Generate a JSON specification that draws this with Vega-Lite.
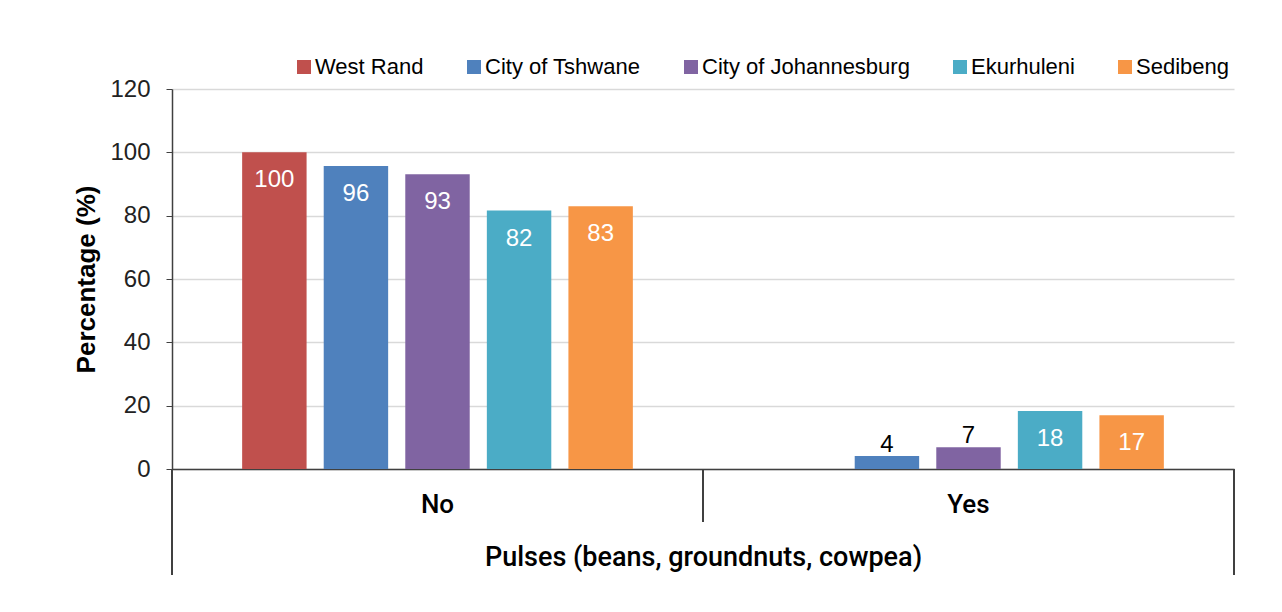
{
  "$schema": "https://vega.github.io/schema/vega-lite/v6.json",
  "width": 1062,
  "height": 380,
  "autosize": {"type": "none"},
  "padding": {"left": 172, "top": 89, "right": 48, "bottom": 143},
  "background": "white",
  "config": {"view": {"stroke": null}, "font": "Liberation Sans"},
  "data": {"values": [
    {"answer": "No", "district": "West Rand", "value": 100},
    {"answer": "No", "district": "City of Tshwane", "value": 95.7},
    {"answer": "No", "district": "City of Johannesburg", "value": 93.1},
    {"answer": "No", "district": "Ekurhuleni", "value": 81.6},
    {"answer": "No", "district": "Sedibeng", "value": 83},
    {"answer": "Yes", "district": "City of Tshwane", "value": 4.1},
    {"answer": "Yes", "district": "City of Johannesburg", "value": 6.9},
    {"answer": "Yes", "district": "Ekurhuleni", "value": 18.3},
    {"answer": "Yes", "district": "Sedibeng", "value": 17}
  ]},
  "layer": [
    {
      "mark": {"type": "bar"},
      "encoding": {
        "x": {"field": "answer", "type": "nominal", "sort": ["No", "Yes"],
          "scale": {"paddingInner": 0, "paddingOuter": 0},
          "title": "Pulses (beans, groundnuts, cowpea)",
          "axis": {"labelAngle": 0, "ticks": false, "domainColor": "#404040", "domainWidth": 1.5,
            "labelFont": "Roboto", "labelFontWeight": 500,
            "labelFontSize": 26, "labelColor": "#000000", "labelPadding": 22,
            "titleFont": "Roboto", "titleFontSize": 27, "titleFontWeight": 500, "titleColor": "#000000", "titlePadding": 27}},
        "xOffset": {"field": "district", "type": "nominal",
          "sort": ["West Rand", "City of Tshwane", "City of Johannesburg", "Ekurhuleni", "Sedibeng"],
          "scale": {"paddingInner": 0.21, "paddingOuter": 0.86}},
        "y": {"field": "value", "type": "quantitative",
          "scale": {"domain": [0, 120], "nice": false},
          "title": "Percentage (%)",
          "axis": {"values": [0, 20, 40, 60, 80, 100, 120], "domainColor": "#404040", "domainWidth": 1.5,
            "tickColor": "#404040", "tickSize": 6, "labelPadding": 16, "labelFontSize": 24, "labelColor": "#222222",
            "gridColor": "#d9d9d9", "gridWidth": 1.5,
            "titleFontSize": 26, "titleFontWeight": "bold", "titleColor": "#000000", "titlePadding": 10}},
        "color": {"field": "district", "type": "nominal",
          "sort": ["West Rand", "City of Tshwane", "City of Johannesburg", "Ekurhuleni", "Sedibeng"],
          "scale": {"domain": ["West Rand", "City of Tshwane", "City of Johannesburg", "Ekurhuleni", "Sedibeng"],
            "range": ["#c0504d", "#4f81bd", "#8064a2", "#4bacc6", "#f79646"]},
          "legend": {"title": null, "orient": "none", "legendX": 121, "legendY": -33, "direction": "horizontal",
            "columns": 5, "symbolType": "square", "symbolSize": 196, "symbolStrokeWidth": 0,
            "labelFontSize": 22, "labelColor": "#000000", "labelOffset": 0, "labelLimit": 400, "columnPadding": 39}}
      }
    },
    {
      "transform": [{"filter": "datum.value >= 10"}],
      "mark": {"type": "text", "baseline": "middle", "dy": 28, "fontSize": 24, "color": "white"},
      "encoding": {
        "x": {"field": "answer", "type": "nominal", "sort": ["No", "Yes"]},
        "xOffset": {"field": "district", "type": "nominal",
          "sort": ["West Rand", "City of Tshwane", "City of Johannesburg", "Ekurhuleni", "Sedibeng"]},
        "y": {"field": "value", "type": "quantitative"},
        "text": {"field": "value", "type": "quantitative", "format": ".0f"}
      }
    },
    {
      "transform": [{"filter": "datum.value < 10"}],
      "mark": {"type": "text", "baseline": "alphabetic", "dy": -4, "fontSize": 24, "color": "black"},
      "encoding": {
        "x": {"field": "answer", "type": "nominal", "sort": ["No", "Yes"]},
        "xOffset": {"field": "district", "type": "nominal",
          "sort": ["West Rand", "City of Tshwane", "City of Johannesburg", "Ekurhuleni", "Sedibeng"]},
        "y": {"field": "value", "type": "quantitative"},
        "text": {"field": "value", "type": "quantitative", "format": ".0f"}
      }
    },
    {
      "mark": {"type": "rule", "color": "#404040", "strokeWidth": 1.5},
      "encoding": {
        "x": {"datum": "No", "bandPosition": 0},
        "y": {"datum": 0},
        "y2": {"datum": -33.5}
      }
    },
    {
      "mark": {"type": "rule", "color": "#404040", "strokeWidth": 1.5},
      "encoding": {
        "x": {"datum": "Yes", "bandPosition": 1},
        "y": {"datum": 0},
        "y2": {"datum": -33.5}
      }
    },
    {
      "mark": {"type": "rule", "color": "#404040", "strokeWidth": 1.5},
      "encoding": {
        "x": {"datum": "Yes", "bandPosition": 0},
        "y": {"datum": 0},
        "y2": {"datum": -16.7}
      }
    }
  ]
}
